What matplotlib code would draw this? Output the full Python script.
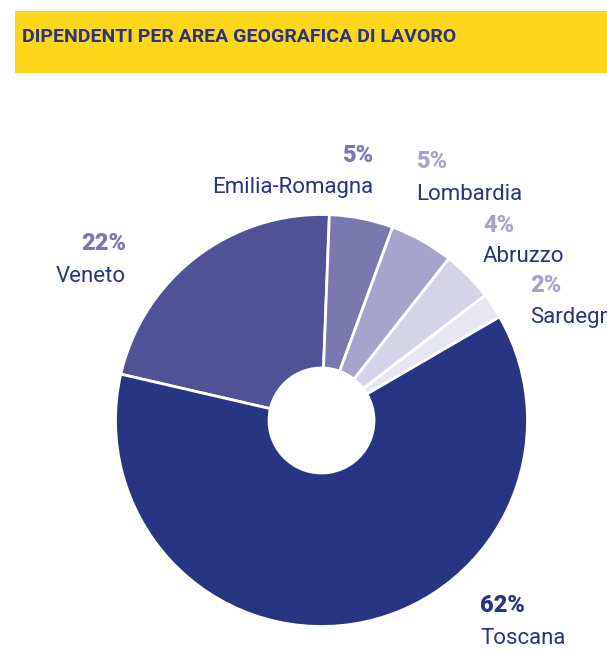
import matplotlib.pyplot as plt
from matplotlib.patches import Rectangle

# data
regions = ['Veneto', 'Emilia-Romagna', 'Lombardia', 'Abruzzo', 'Sardegna', 'Toscana']
shares = [22, 5, 5, 4, 2, 62]
pct_labels = ['22%', '5%', '5%', '4%', '2%', '62%']

title = 'DIPENDENTI PER AREA GEOGRAFICA DI LAVORO'

navy = '#283583'
slice_colors = ['#4f5295', '#7a78af', '#a7a4cc', '#d4d3e8', '#e7e6f3', navy]
pct_colors = ['#7a78af', '#7a78af', '#a7a4cc', '#a7a4cc', '#a7a4cc', navy]

# label anchor (pixels from top-left) and alignment
label_pos = [(126, 244, 'right'), (373, 155, 'right'), (416, 162, 'left'),
             (483, 225, 'left'), (530, 285, 'left'), (480, 606, 'left')]

W, H = 607, 651
fig = plt.figure(figsize=(W / 100, H / 100), dpi=100)
ax = fig.add_axes([0, 0, 1, 1])

cx, cy, r = 321.5, H - 420.5, 206
ax.pie(shares, colors=slice_colors, startangle=167, counterclock=False,
       center=(cx, cy), radius=r,
       wedgeprops=dict(width=r - 52.5, edgecolor='white', linewidth=2))

ax.set_xlim(0, W)
ax.set_ylim(0, H)
ax.set_aspect('equal')
ax.axis('off')

# yellow banner
ax.add_patch(Rectangle((15, H - 73), W - 15, 62, facecolor='#fed61a', edgecolor='none'))
ax.text(22, H - 37, title, fontsize=14, fontweight='bold', color=navy,
        family='Roboto', va='center', ha='left')

for name, pct, pc, (x, y, ha) in zip(regions, pct_labels, pct_colors, label_pos):
    ax.text(x, H - y, pct, fontsize=17, fontweight='heavy', color=pc,
            family='Roboto', ha=ha, va='center')
    ax.text(x, H - y - 32, name, fontsize=16, color=navy,
            family='Roboto', ha=ha, va='center', clip_on=True)

plt.savefig('out.png', dpi=100, facecolor='w')
